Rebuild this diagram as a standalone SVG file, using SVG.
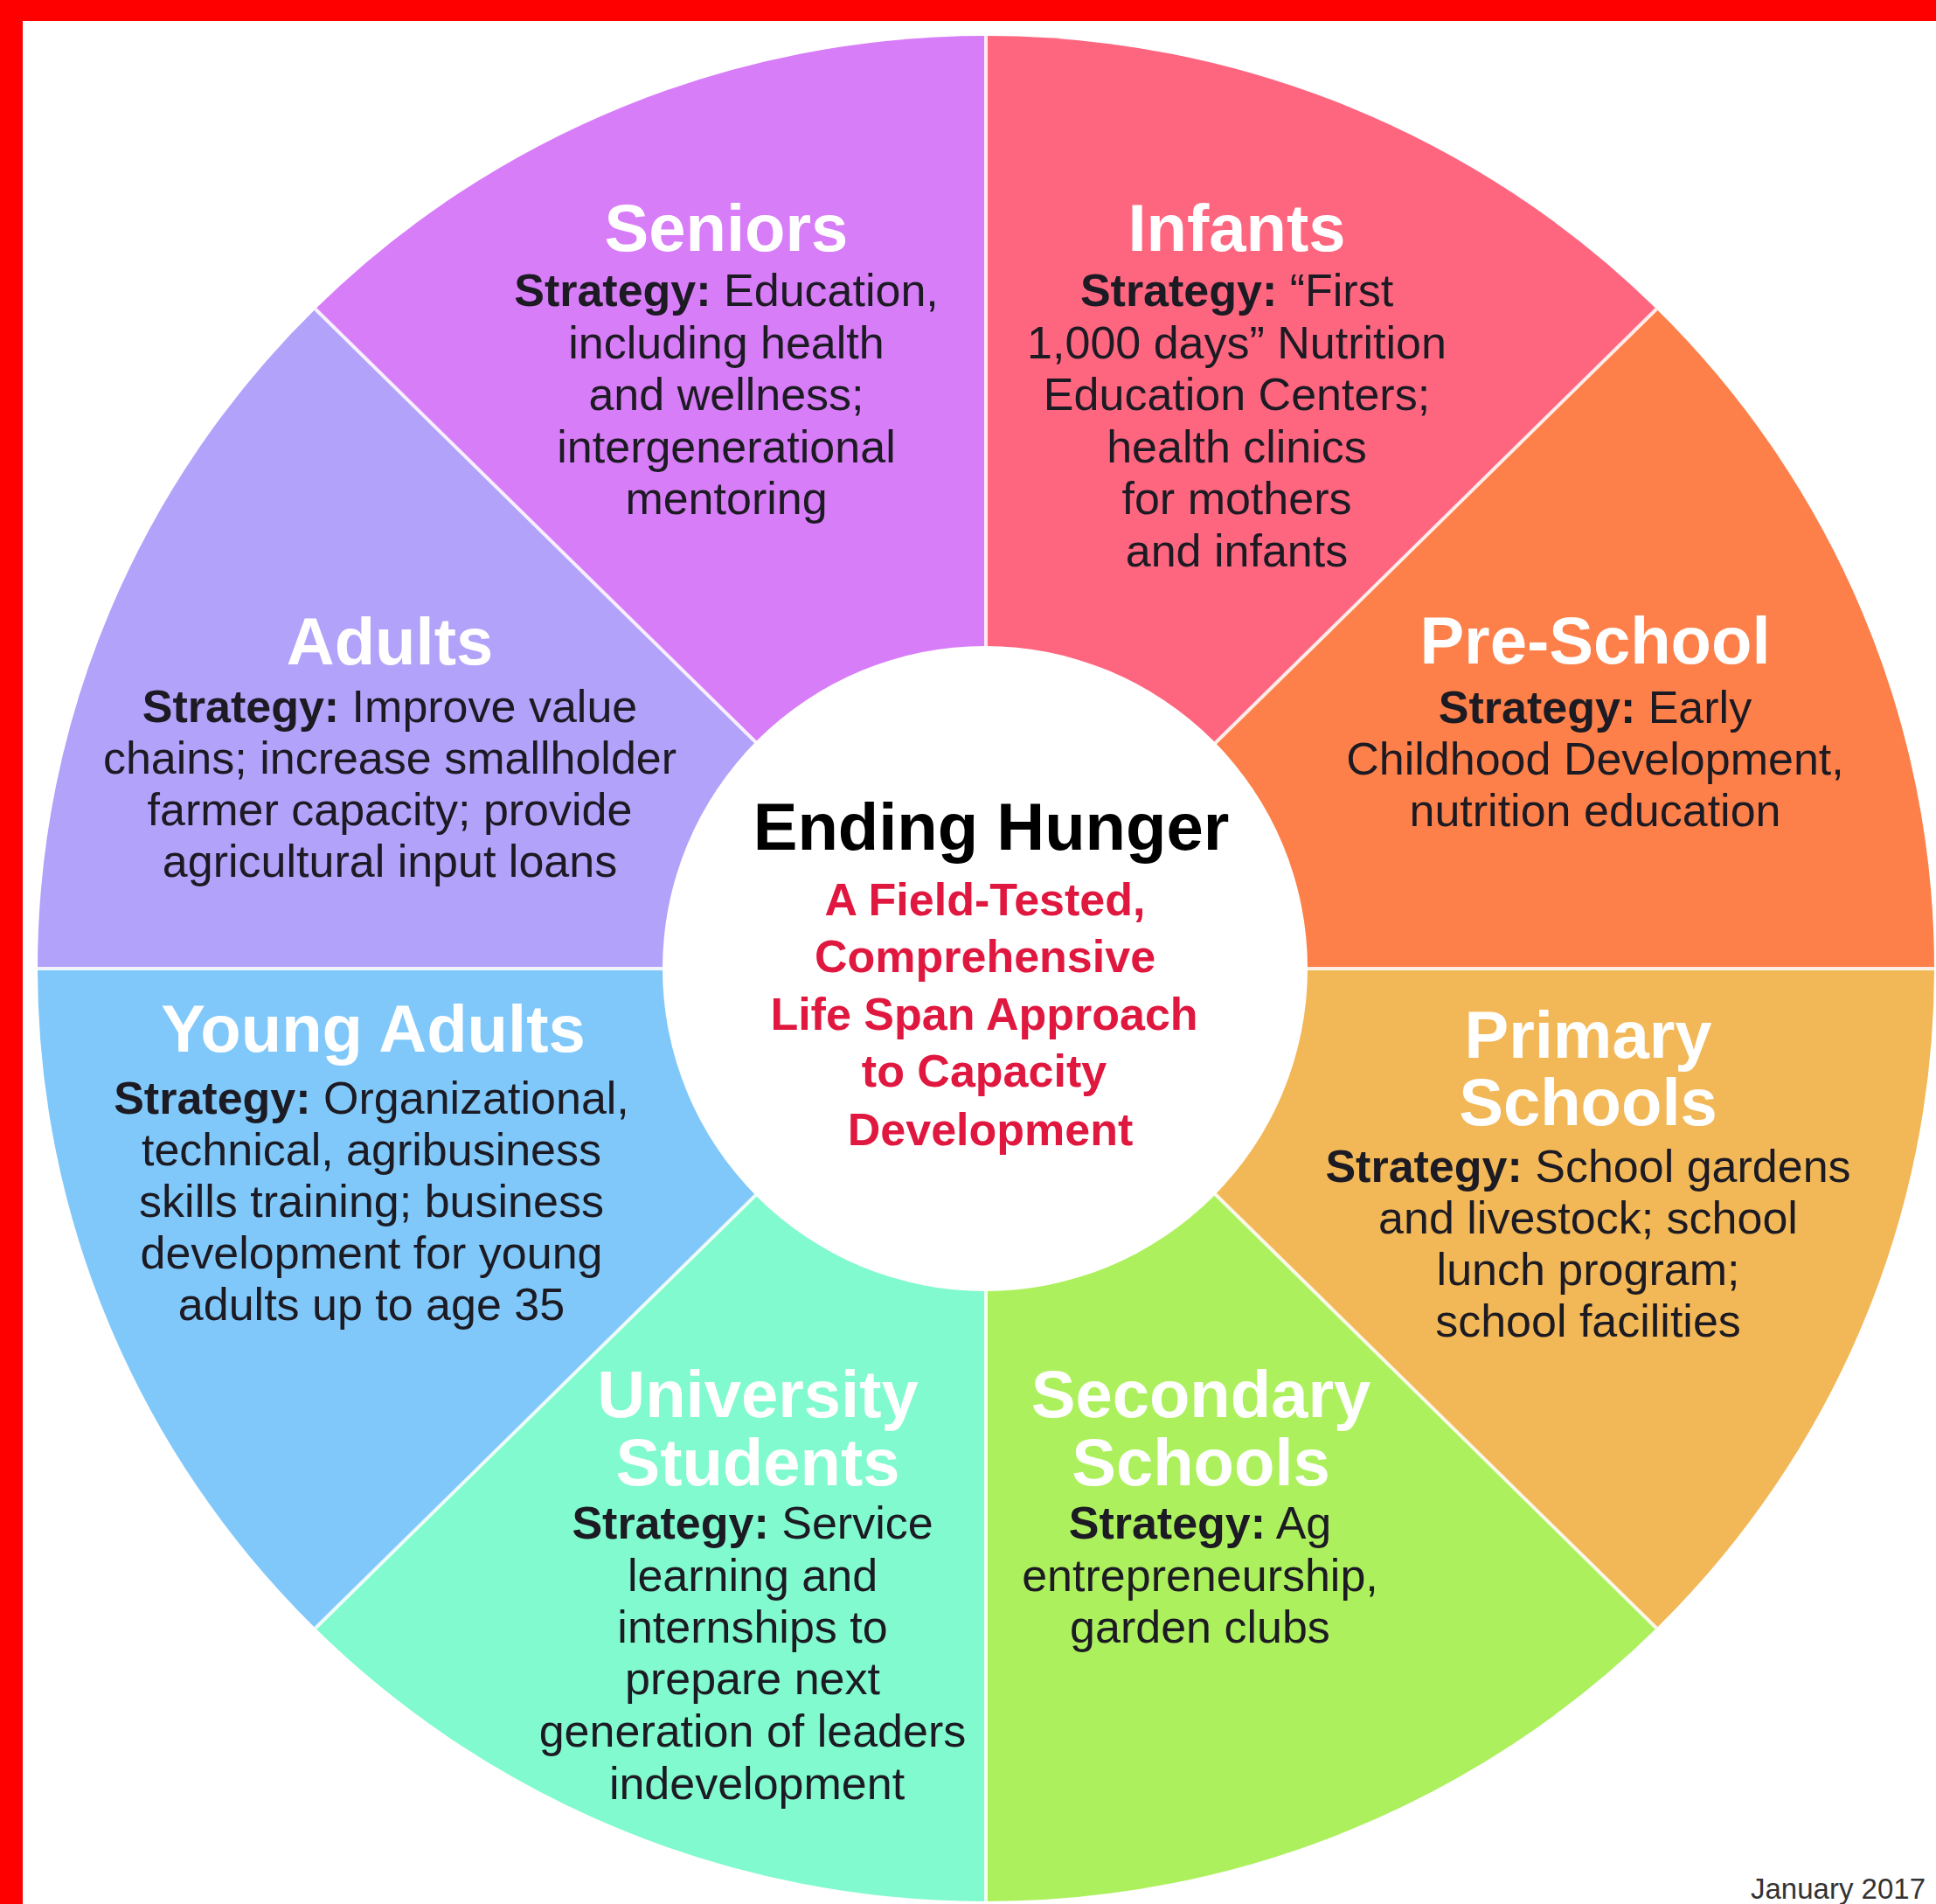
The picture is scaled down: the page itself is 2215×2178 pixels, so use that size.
<svg xmlns="http://www.w3.org/2000/svg" width="2215" height="2178" viewBox="0 0 2215 2178">
  <style>
    text { font-family: "Liberation Sans", Arial, Helvetica, sans-serif; text-anchor: middle; }
    .title { font-size: 76px; font-weight: bold; fill: #ffffff; }
    .body { font-size: 52px; fill: #1c1a22; }
    .b { font-weight: bold; }
    .hub-title { font-size: 76px; font-weight: bold; fill: #000000; }
    .hub-sub { font-size: 52px; font-weight: bold; fill: #e0173f; }
    .date { font-size: 33px; fill: #333333; text-anchor: end; }
    .divider { stroke: #ffffff; stroke-opacity: 0.85; stroke-width: 4; fill: none; }
  </style>

  <!-- page frame -->
  <rect x="0" y="0" width="2215" height="2178" fill="#ffffff"/>
  <rect x="0" y="0" width="2215" height="24" fill="#ff0000"/>
  <rect x="0" y="0" width="26" height="2178" fill="#ff0000"/>

  <!-- wheel: centre (1128,1108), radii 1085 x 1067 -->
  <g id="sector-infants">
    <path d="M1128 1108 L1128 41 A1085 1067 0 0 1 1895.2 353.5 Z" fill="#fe6680"/>
    <text class="title" x="1415" y="287">Infants</text>
    <text class="body" x="1415" y="350"><tspan class="b">Strategy:</tspan> “First</text>
    <text class="body" x="1415" y="409.5">1,000 days” Nutrition</text>
    <text class="body" x="1415" y="469">Education Centers;</text>
    <text class="body" x="1415" y="528.5">health clinics</text>
    <text class="body" x="1415" y="588">for mothers</text>
    <text class="body" x="1415" y="647.5">and infants</text>
  </g>

  <g id="sector-preschool">
    <path d="M1128 1108 L1895.2 353.5 A1085 1067 0 0 1 2213 1108 Z" fill="#fd804a"/>
    <text class="title" x="1825" y="759">Pre-School</text>
    <text class="body" x="1825" y="827"><tspan class="b">Strategy:</tspan> Early</text>
    <text class="body" x="1825" y="886">Childhood Development,</text>
    <text class="body" x="1825" y="945">nutrition education</text>
  </g>

  <g id="sector-primary">
    <path d="M1128 1108 L2213 1108 A1085 1067 0 0 1 1895.2 1862.5 Z" fill="#f2b858"/>
    <text class="title" x="1817" y="1210">Primary</text>
    <text class="title" x="1817" y="1287">Schools</text>
    <text class="body" x="1817" y="1352"><tspan class="b">Strategy:</tspan> School gardens</text>
    <text class="body" x="1817" y="1411">and livestock; school</text>
    <text class="body" x="1817" y="1470">lunch program;</text>
    <text class="body" x="1817" y="1529">school facilities</text>
  </g>

  <g id="sector-secondary">
    <path d="M1128 1108 L1895.2 1862.5 A1085 1067 0 0 1 1128 2175 Z" fill="#adf05e"/>
    <text class="title" x="1374" y="1621">Secondary</text>
    <text class="title" x="1374" y="1699">Schools</text>
    <text class="body" x="1373" y="1760"><tspan class="b">Strategy:</tspan> Ag</text>
    <text class="body" x="1373" y="1820">entrepreneurship,</text>
    <text class="body" x="1373" y="1879">garden clubs</text>
  </g>

  <g id="sector-university">
    <path d="M1128 1108 L1128 2175 A1085 1067 0 0 1 360.8 1862.5 Z" fill="#80face"/>
    <text class="title" x="867" y="1621">University</text>
    <text class="title" x="867" y="1699">Students</text>
    <text class="body" x="861" y="1760"><tspan class="b">Strategy:</tspan> Service</text>
    <text class="body" x="861" y="1820">learning and</text>
    <text class="body" x="861" y="1879">internships to</text>
    <text class="body" x="861" y="1938">prepare next</text>
    <text class="body" x="861" y="1998">generation of leaders</text>
    <text class="body" x="866" y="2058">indevelopment</text>
  </g>

  <g id="sector-young-adults">
    <path d="M1128 1108 L360.8 1862.5 A1085 1067 0 0 1 43 1108 Z" fill="#80c8fa"/>
    <text class="title" x="427" y="1203">Young Adults</text>
    <text class="body" x="425" y="1274"><tspan class="b">Strategy:</tspan> Organizational,</text>
    <text class="body" x="425" y="1333">technical, agribusiness</text>
    <text class="body" x="425" y="1392">skills training; business</text>
    <text class="body" x="425" y="1451">development for young</text>
    <text class="body" x="425" y="1510">adults up to age 35</text>
  </g>

  <g id="sector-adults">
    <path d="M1128 1108 L43 1108 A1085 1067 0 0 1 360.8 353.5 Z" fill="#b2a2fa"/>
    <text class="title" x="446" y="760">Adults</text>
    <text class="body" x="446" y="826"><tspan class="b">Strategy:</tspan> Improve value</text>
    <text class="body" x="446" y="885">chains; increase smallholder</text>
    <text class="body" x="446" y="944">farmer capacity; provide</text>
    <text class="body" x="446" y="1003">agricultural input loans</text>
  </g>

  <g id="sector-seniors">
    <path d="M1128 1108 L360.8 353.5 A1085 1067 0 0 1 1128 41 Z" fill="#d87df8"/>
    <text class="title" x="831" y="287">Seniors</text>
    <text class="body" x="831" y="350"><tspan class="b">Strategy:</tspan> Education,</text>
    <text class="body" x="831" y="409.5">including health</text>
    <text class="body" x="831" y="469">and wellness;</text>
    <text class="body" x="831" y="528.5">intergenerational</text>
    <text class="body" x="831" y="588">mentoring</text>
  </g>

  <!-- thin light lines between the segments -->
  <g id="dividers">
    <line class="divider" x1="1128" y1="41" x2="1128" y2="2175"/>
    <line class="divider" x1="43" y1="1108" x2="2213" y2="1108"/>
    <line class="divider" x1="360.8" y1="353.5" x2="1895.2" y2="1862.5"/>
    <line class="divider" x1="1895.2" y1="353.5" x2="360.8" y2="1862.5"/>
  </g>

  <!-- central hub -->
  <g id="hub">
    <circle cx="1127" cy="1108" r="369" fill="#ffffff"/>
    <text class="hub-title" x="1134" y="972">Ending Hunger</text>
    <text class="hub-sub" x="1127" y="1047">A Field-Tested,</text>
    <text class="hub-sub" x="1127" y="1112">Comprehensive</text>
    <text class="hub-sub" x="1126" y="1178">Life Span Approach</text>
    <text class="hub-sub" x="1126" y="1243">to Capacity</text>
    <text class="hub-sub" x="1133" y="1310">Development</text>
  </g>

  <text class="date" x="2203" y="2172">January 2017</text>
</svg>
